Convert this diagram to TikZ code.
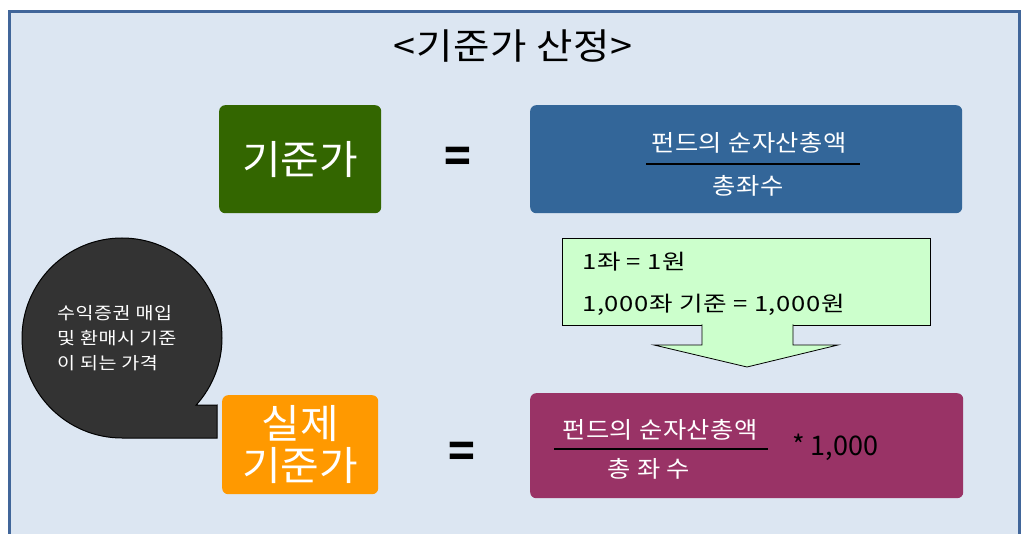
\documentclass[tikz,border=0pt]{standalone}
\usepackage{fontspec}
\setmainfont{Noto Sans CJK KR}
\usepackage{tikz}
\usetikzlibrary{positioning,arrows.meta,calc}
\definecolor{framecol}{HTML}{41669A}
\definecolor{bgcol}{HTML}{DCE6F2}
\definecolor{basegreen}{HTML}{336600}
\definecolor{navblue}{HTML}{336699}
\definecolor{notegreen}{HTML}{CCFFCC}
\definecolor{realorange}{HTML}{FF9900}
\definecolor{navpurple}{HTML}{993366}
\definecolor{bubblegray}{HTML}{333333}
\newcommand{\fsz}[2][1.2]{\fontsize{#2}{#1\dimexpr#2pt\relax}\selectfont}
\newcommand{\wider}[2]{\addfontfeature{FakeStretch=#1,LetterSpace=#2}}

\begin{document}
\begin{tikzpicture}[
    x=1pt, y=-1pt,
    box/.style={rounded corners=6pt, inner sep=0pt, anchor=north west},
    bigtext/.style={text=white, font=\fsz{40}\wider{1.05}{0}, align=center},
    fractext/.style={text=white, font=\fsz{23}\wider{1.1}{2}, inner sep=0pt},
    notetext/.style={font=\fsz{21}\wider{1.22}{3}, anchor=west, inner sep=0pt},
    eqsign/.style={font=\bfseries\fsz{44}},
    fracbar/.style={line width=1.4pt, black},
]
    \useasboundingbox (0,0) rectangle (1022,534);
    % background frame
    \draw[line width=3pt, draw=framecol, fill=bgcol] (9.5,11.5) rectangle (1019.5,580);

    % title
    \node[font=\fsz{36}\wider{1.1}{2}] (title) at (513,46) {<기준가 산정>};

    % upper row
    \node[box, fill=basegreen, minimum width=162pt, minimum height=108pt] (base) at (219,105) {};
    \node[bigtext] at (base.center) {기준가};
    \node[eqsign] (eqtop) at (458,160) {=};
    \node[box, fill=navblue, minimum width=432pt, minimum height=108pt] (navtop) at (530,105) {};
    \node[fractext] (numtop) at (749,143) {펀드의 순자산총액};
    \node[fractext] (dentop) at (748,186) {총좌수};
    \coordinate (bartopl) at (646,164);
    \coordinate (bartopr) at (860,164);
    \draw[fracbar] (bartopl) -- (bartopr);

    % unit note with down arrow
    \node[draw=black, fill=notegreen, line width=0.8pt, minimum width=368pt, minimum height=87pt,
          inner sep=0pt, anchor=north west] (unitnote) at (562,238) {};
    \draw[draw=black, fill=notegreen, line width=0.8pt]
        (702,324.5) -- (702,345) -- (654,345) -- (747,367) -- (838,345) -- (793,345) -- (793,324.5);
    \node[notetext] (noteone) at (582,262) {1좌 = 1원};
    \node[notetext] (notetwo) at (582,305) {1,000좌 기준 = 1,000원};

    % speech bubble
    \draw[draw=black, fill=bubblegray, line width=1pt]
        (217,405) -- (217,438) -- (122,438) arc[start angle=270, end angle=-42.2, radius=100pt] -- cycle;
    \node[text=white, font={\fsz[1.45]{17}\wider{1.15}{3}}, align=left, anchor=base west, inner sep=0pt] (bubble) at (57,369)
        {수익증권 매입\\및 환매시 기준\\이 되는 가격};

    % lower row
    \node[box, fill=realorange, minimum width=156pt, minimum height=99pt] (real) at (222,395) {};
    \node[bigtext] at (real.center) {실제\\[-6pt]기준가};
    \node[eqsign] (eqbot) at (462,455) {=};
    \node[box, fill=navpurple, minimum width=433pt, minimum height=105pt] (navbot) at (530,393) {};
    \node[fractext] (numbot) at (660,430) {펀드의 순자산총액};
    \node[fractext] (denbot) at (649,469) {총 좌 수};
    \coordinate (barbotl) at (554,449);
    \coordinate (barbotr) at (768,449);
    \draw[fracbar] (barbotl) -- (barbotr);
    \node[font=\fsz{27}, anchor=west, inner sep=0pt] (times) at (792,447) {* 1,000};
\end{tikzpicture}
\end{document}
